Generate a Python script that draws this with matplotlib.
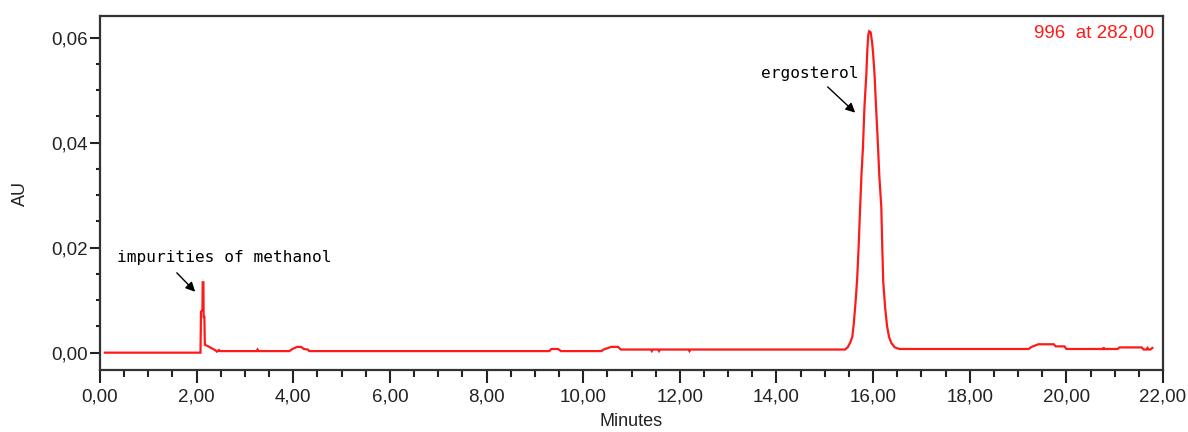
import matplotlib
matplotlib.use("Agg")
import matplotlib.pyplot as plt
from matplotlib.ticker import MultipleLocator, FuncFormatter

# ---- data ----
time_min = [0.10, 2.08, 2.09, 2.115, 2.12, 2.125, 2.14, 2.145, 2.16, 2.17, 2.22, 2.30, 2.38,
            2.42, 2.46, 2.48, 3.24, 3.26, 3.28, 3.92, 3.98, 4.08, 4.16, 4.22, 4.30, 4.33,
            9.30, 9.34, 9.48, 9.54, 10.38, 10.42, 10.58, 10.72, 10.78, 11.40, 11.42, 11.44,
            11.55, 11.57, 11.59, 12.18, 12.20, 12.22, 15.42, 15.48, 15.53, 15.57, 15.60,
            15.64, 15.67, 15.70, 15.73, 15.76, 15.79, 15.82, 15.86, 15.88, 15.90, 15.92,
            15.95, 15.98, 16.00, 16.03, 16.06, 16.09, 16.13, 16.17, 16.19, 16.21, 16.25,
            16.29, 16.33, 16.38, 16.45, 16.55, 19.22, 19.28, 19.42, 19.74, 19.78, 19.96,
            20.00, 20.76, 20.77, 20.78, 21.06, 21.10, 21.56, 21.60, 21.66, 21.68, 21.70,
            21.74, 21.78]
absorbance = [0.0000, 0.0000, 0.0078, 0.0080, 0.0080, 0.0134, 0.0134, 0.0068, 0.0068, 0.0015,
              0.0013, 0.0009, 0.0005, 0.0002, 0.0005, 0.0003, 0.0003, 0.0006, 0.0003, 0.0003,
              0.0007, 0.0011, 0.0011, 0.0007, 0.0006, 0.0003, 0.0003, 0.0007, 0.0007, 0.0003,
              0.0003, 0.0006, 0.0011, 0.0011, 0.0006, 0.0006, 0.0003, 0.0006, 0.0006, 0.0003,
              0.0006, 0.0006, 0.0003, 0.0006, 0.0006, 0.0011, 0.0020, 0.0030, 0.0055, 0.0100,
              0.0140, 0.0200, 0.0272, 0.0340, 0.0390, 0.0466, 0.0530, 0.0575, 0.0605, 0.0612,
              0.0610, 0.0590, 0.0570, 0.0530, 0.0470, 0.0415, 0.0335, 0.0277, 0.0200, 0.0135,
              0.0085, 0.0050, 0.0030, 0.0018, 0.0010, 0.0007, 0.0007, 0.0011, 0.0016, 0.0016,
              0.0012, 0.0012, 0.0007, 0.0007, 0.0010, 0.0007, 0.0007, 0.0010, 0.0010, 0.0006,
              0.0006, 0.0009, 0.0006, 0.0006, 0.0009]

annot_texts = ["impurities of methanol", "ergosterol"]
annot_text_xy = [(0.35, 0.0182), (13.68, 0.0531)]
annot_arrow_from = [(1.59, 0.0152), (15.06, 0.0506)]
annot_arrow_to = [(1.97, 0.0116), (15.63, 0.0457)]
channel_label = "996  at 282,00"

# ---- figure ----
fig = plt.figure(figsize=(11.88, 4.32), dpi=100)
ax = fig.add_axes([100/1188, 1-370/432, 1063/1188, 354/432])

ax.plot(time_min, absorbance, color="#ff1a1a", lw=1.6, solid_joinstyle="miter")

ax.set_xlim(0, 22)
ax.set_ylim(-0.0033, 0.0641)

comma = FuncFormatter(lambda v, p: f"{v:.2f}".replace(".", ","))
ax.xaxis.set_major_locator(MultipleLocator(2))
ax.xaxis.set_minor_locator(MultipleLocator(0.5))
ax.yaxis.set_major_locator(MultipleLocator(0.02))
ax.yaxis.set_minor_locator(MultipleLocator(0.005))
ax.xaxis.set_major_formatter(comma)
ax.yaxis.set_major_formatter(comma)

for lab in ax.get_xticklabels() + ax.get_yticklabels():
    lab.set_fontfamily("Liberation Sans")
    lab.set_fontsize(13.5)
ax.tick_params(axis="x", which="major", length=9, width=1.5, color="#222222", pad=4)
ax.tick_params(axis="x", which="minor", length=5, width=1.5, color="#222222")
ax.tick_params(axis="y", which="major", length=7, width=1.5, color="#222222", pad=2)
ax.tick_params(axis="y", which="minor", length=3, width=1.5, color="#222222")
ax.tick_params(labelcolor="#222222")

for s in ax.spines.values():
    s.set_linewidth(1.6)
    s.set_color("#333333")

ax.set_xlabel("Minutes", fontfamily="Liberation Sans", fontsize=13, color="#222222", labelpad=6)
ax.set_ylabel("AU", fontfamily="Liberation Sans", fontsize=13, color="#222222", labelpad=16)

for txt, xy, a0, a1 in zip(annot_texts, annot_text_xy, annot_arrow_from, annot_arrow_to):
    ax.text(xy[0], xy[1], txt, fontfamily="DejaVu Sans Mono", fontsize=11.6,
            va="center", ha="left", color="black")
    ax.annotate("", xy=a1, xytext=a0,
                arrowprops=dict(arrowstyle="-|>", color="black", lw=1.0,
                                mutation_scale=14, shrinkA=0, shrinkB=0))

ax.text(0.9915, 0.975, channel_label, transform=ax.transAxes, ha="right", va="top",
        fontfamily="Liberation Sans", fontsize=13.5, color="#ff1a1a")

fig.savefig("out.png", dpi=100)
